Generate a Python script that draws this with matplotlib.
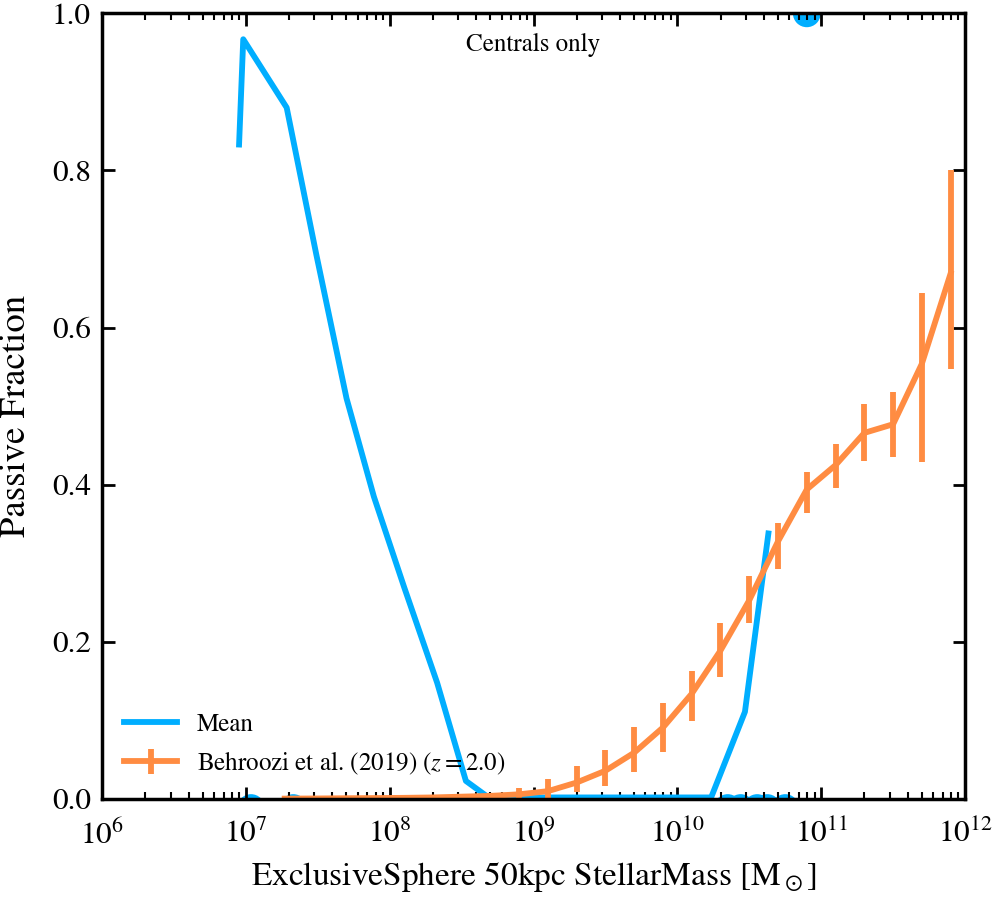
import numpy as np
import matplotlib
matplotlib.use("Agg")
from matplotlib import pyplot as plt

plt.rcParams["font.family"] = ["STIXGeneral", "DejaVu Serif"]
plt.rcParams["mathtext.fontset"] = "stix"

# mean passive fraction (log10 stellar mass)
mean_logm = [6.953, 6.982, 7.284, 7.49, 7.70, 7.89, 8.10, 8.33, 8.53, 8.68,
             8.9, 9.1, 9.3, 9.5, 9.7, 9.9, 10.1, 10.235, 10.47, 10.633]
mean_frac = [0.833, 0.967, 0.880, 0.693, 0.51, 0.385, 0.27, 0.148, 0.023, 0.003,
             0.002, 0.002, 0.002, 0.002, 0.002, 0.002, 0.002, 0.002, 0.111, 0.338]

# individual galaxies in sparse bins
gal_logm = [7.036, 7.33, 10.35, 10.44, 10.555, 10.625, 10.75, 10.90]
gal_frac = [-0.0115, -0.0115, -0.0115, -0.0115, -0.0115, -0.0115, -0.0115, 1.0]

# Behroozi et al. (2019) z=2
b_logm = [7.27, 7.5, 7.7, 7.9, 8.1, 8.3, 8.5, 8.7, 8.9, 9.1, 9.3, 9.5, 9.7,
          9.9, 10.1, 10.3, 10.5, 10.7, 10.9, 11.1, 11.3, 11.5, 11.7, 11.9]
b_frac = [0.0005, 0.0007, 0.001, 0.0012, 0.0015, 0.002, 0.003, 0.004, 0.006,
          0.010, 0.021, 0.036, 0.059, 0.091, 0.134, 0.189, 0.253, 0.328,
          0.394, 0.425, 0.466, 0.477, 0.554, 0.669]
b_err_lo = [0.0003, 0.0004, 0.0005, 0.0006, 0.0008, 0.001, 0.0015, 0.002,
            0.005, 0.009, 0.012, 0.019, 0.025, 0.031, 0.035, 0.034, 0.029,
            0.035, 0.030, 0.029, 0.036, 0.042, 0.125, 0.122]
b_err_hi = [0.0003, 0.0004, 0.0005, 0.0006, 0.0008, 0.001, 0.0015, 0.003,
            0.008, 0.015, 0.021, 0.027, 0.033, 0.031, 0.029, 0.035, 0.031,
            0.023, 0.022, 0.027, 0.037, 0.041, 0.090, 0.131]

blue = "#00AEFF"
orange = "#FF8C42"

fig = plt.figure(figsize=(9.96, 9.0), dpi=100)
ax = fig.add_axes([0.1024, 0.1122, 0.8665, 0.8730])

ax.plot(10 ** np.array(mean_logm), mean_frac, color=blue, lw=4.2, label="Mean")
ax.scatter(10 ** np.array(gal_logm), gal_frac, s=400, color=blue,
           edgecolors="none", zorder=1.5)
ax.errorbar(10 ** np.array(b_logm), b_frac, yerr=[b_err_lo, b_err_hi],
            color=orange, lw=4.2, elinewidth=4.2, capsize=0,
            label="Behroozi et al. (2019) ($z=2.0$)")

ax.set_xscale("log")
ax.set_xlim(1e6, 1e12)
ax.set_ylim(0, 1)
ax.set_yticks([0, 0.2, 0.4, 0.6, 0.8, 1.0])
ax.set_yticklabels(["0.0", "0.2", "0.4", "0.6", "0.8", "1.0"])

ax.tick_params(which="both", direction="in", top=True, right=True,
               labelsize=22.5)
ax.tick_params(which="major", length=9, width=2)
ax.tick_params(which="minor", length=5, width=1.5)
ax.tick_params(axis="x", pad=15)
ax.tick_params(axis="y", pad=8)
for s in ax.spines.values():
    s.set_linewidth(2.5)

ax.set_xlabel(r"ExclusiveSphere 50kpc StellarMass [M$_\odot$]", fontsize=24,
              labelpad=7)
ax.set_ylabel("Passive Fraction", fontsize=26.5)
ax.yaxis.set_label_coords(-0.080, 0.488)

ax.text(0.5, 0.975, "Centrals only", transform=ax.transAxes,
        ha="center", va="top", fontsize=18)
ax.legend(loc="lower left", frameon=False, fontsize=18, handlelength=2.1)

fig.savefig("out.png", dpi=100)
